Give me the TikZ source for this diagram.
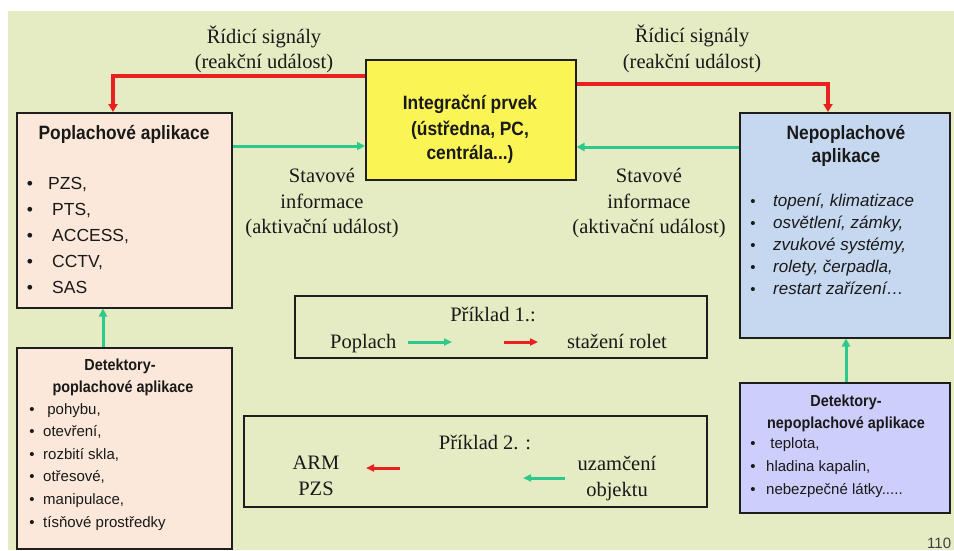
\documentclass[tikz,border=0pt]{standalone}
\usepackage{fontspec}
\setmainfont{Liberation Serif}
\setsansfont{Liberation Sans}
\newfontfamily\condsans[FakeStretch=0.9]{Liberation Sans}
\usetikzlibrary{arrows.meta}
\definecolor{bgc}{RGB}{229,235,195}
\definecolor{pinkc}{RGB}{252,232,218}
\definecolor{yelc}{RGB}{250,245,85}
\definecolor{bluec}{RGB}{198,216,240}
\definecolor{lavc}{RGB}{206,206,252}
\definecolor{redc}{RGB}{232,32,32}
\definecolor{grnc}{RGB}{45,200,140}
\definecolor{linec}{RGB}{30,30,30}
\definecolor{txtc}{RGB}{25,25,25}
\newcommand\fivedots{.....}
\tikzset{
  box/.style={draw=linec, line width=1.5pt, inner sep=0pt, anchor=north west},
  tc/.style={inner sep=0pt, anchor=base, text=txtc},
  tw/.style={inner sep=0pt, anchor=base west, text=txtc},
  serif/.style={font=\rmfamily\fontsize{20.5pt}{24pt}\selectfont},
  sfb/.style={font=\condsans\bfseries\fontsize{19.3pt}{22pt}\selectfont},
  sfr/.style={font=\sffamily\fontsize{17.5pt}{21pt}\selectfont},
  sfi/.style={font=\sffamily\itshape\fontsize{17pt}{21pt}\selectfont},
  smb/.style={font=\condsans\bfseries\fontsize{16pt}{18pt}\selectfont},
  smr/.style={font=\sffamily\fontsize{15pt}{18pt}\selectfont},
  rarr/.style={draw=redc, line width=3.5pt, -{Triangle[length=8pt,width=9pt]}},
  garr/.style={draw=grnc, line width=3pt, -{Triangle[length=8pt,width=8pt]}},
  rsm/.style={draw=redc, line width=3pt, -{Triangle[length=8pt,width=7pt]}},
  gsm/.style={draw=grnc, line width=3pt, -{Triangle[length=8pt,width=7pt]}},
}
\begin{document}
\begin{tikzpicture}[x=1pt,y=-1pt]
\useasboundingbox (0,0) rectangle (954,550);
\fill[white] (0,0) rectangle (954,550);
\fill[bgc] (8,11) rectangle (954,550);

% boxes
\node[box, fill=pinkc, minimum width=215pt, minimum height=195pt] (pop) at (16,112) {};
\node[box, fill=yelc, minimum width=210pt, minimum height=120pt] (yel) at (365,59) {};
\node[box, fill=bluec, minimum width=210pt, minimum height=225pt] (nep) at (739,112) {};
\node[box, fill=pinkc, minimum width=215pt, minimum height=201pt] (dpop) at (16,347) {};
\node[box, fill=lavc, minimum width=210pt, minimum height=130pt] (dnep) at (739,382) {};
\node[box, minimum width=412pt, minimum height=62pt] (ex1) at (294,295) {};
\node[box, minimum width=463pt, minimum height=91pt] (ex2) at (243,415) {};

% connectors
\coordinate (r1) at (113,76);
\coordinate (r2) at (828,84);
\coordinate (g1) at (0,146);
\coordinate (g2) at (0,147);
\coordinate (u1) at (103,0);
\coordinate (u2) at (846,0);
\draw[rarr] (yel.west |- r1) -| (pop.north -| r1);
\draw[rarr] (yel.east |- r2) -| (nep.north -| r2);
\draw[garr] (pop.east |- g1) -- (yel.west |- g1);
\draw[garr] (nep.west |- g2) -- (yel.east |- g2);
\draw[garr] (dpop.north -| u1) -- (pop.south -| u1);
\draw[garr] (dnep.north -| u2) -- (nep.south -| u2);

% labels on connectors
\node[serif, tc] (la1) at (264,43) {Řídicí signály};
\node[serif, tc] (la2) at (264,68) {(reakční událost)};
\node[serif, tc] (lb1) at (692,42) {Řídicí signály};
\node[serif, tc] (lb2) at (692,68) {(reakční událost)};
\node[serif, tc] (sa1) at (322,182) {Stavové};
\node[serif, tc] (sa2) at (322,208) {informace};
\node[serif, tc] (sa3) at (322,233) {(aktivační událost)};
\node[serif, tc] (sb1) at (649,182) {Stavové};
\node[serif, tc] (sb2) at (649,208) {informace};
\node[serif, tc] (sb3) at (649,233) {(aktivační událost)};

% yellow box text
\node[sfb, tc] (y1) at (470,109) {Integrační prvek};
\node[sfb, tc] (y2) at (470,135) {(ústředna, PC,};
\node[sfb, tc] (y3) at (470,159) {centrála...)};

% Poplachove aplikace
\node[sfb, tc] (pt) at (124,139) {Poplachové aplikace};
\foreach \t [count=\i] in {{PZS,},{PTS,},{ACCESS,},{CCTV,},{SAS}} {
  \node[sfr, tc] (pb\i) at (30,{189+26.2*(\i-1)}) {\textbullet};
  \node[sfr, tw] (pi\i) at ({\i==1 ? 48 : 52},{189+26.2*(\i-1)}) {\t};
}

% Nepoplachove aplikace
\node[sfb, tc] (nt1) at (846,139) {Nepoplachové};
\node[sfb, tc] (nt2) at (846,162) {aplikace};
\foreach \t [count=\i] in {{topení, klimatizace},{osvětlení, zámky,},{zvukové systémy,},{rolety, čerpadla,},{restart zařízení…}} {
  \node[smr, tc] (nb\i) at (753,{206+22.2*(\i-1)}) {\textbullet};
  \node[sfi, tw] (ni\i) at (773,{206+22.2*(\i-1)}) {\t};
}

% Detektory - poplachove
\node[smb, tc] (dt1) at (120,370) {Detektory-};
\node[smb, tc] (dt2) at (123,392) {poplachové aplikace};
\foreach \t [count=\i] in {{\ pohybu,},{otevření,},{rozbití skla,},{otřesové,},{manipulace,},{tísňové prostředky}} {
  \node[smr, tc] (db\i) at (32,{414+22.6*(\i-1)}) {\textbullet};
  \node[smr, tw] (di\i) at (43,{414+22.6*(\i-1)}) {\t};
}

% Detektory - nepoplachove
\node[smb, tc] (et1) at (846,406) {Detektory-};
\node[smb, tc] (et2) at (846,428) {nepoplachové aplikace};
\foreach \t [count=\i] in {{\ teplota,},{hladina kapalin,},{nebezpečné látky\fivedots}} {
  \node[smr, tc] (eb\i) at (753,{448+23*(\i-1)}) {\textbullet};
  \node[smr, tw] (ei\i) at (766,{448+23*(\i-1)}) {\t};
}

% Example 1
\node[serif, tc] (x1t) at (493,321) {Příklad 1.:};
\node[serif, tw] (x1a) at (330,348) {Poplach};
\node[serif, tw] (x1b) at (567,348) {stažení rolet};
\coordinate (e1a) at (408,342);
\coordinate (e1b) at (452,342);
\coordinate (e1c) at (504,342);
\coordinate (e1d) at (538,342);
\draw[gsm] (e1a) -- (e1b);
\draw[rsm] (e1c) -- (e1d);

% Example 2
\node[serif, tc] (x2t) at (485,449) {Příklad 2. :};
\node[serif, tc] (x2a) at (316,469) {ARM};
\node[serif, tc] (x2b) at (316,495) {PZS};
\node[serif, tc] (x2c) at (617,470) {uzamčení};
\node[serif, tc] (x2d) at (617,496) {objektu};
\coordinate (e2a) at (400,468);
\coordinate (e2b) at (366,468);
\coordinate (e2c) at (565,478);
\coordinate (e2d) at (523,478);
\draw[rsm] (e2a) -- (e2b);
\draw[gsm] (e2c) -- (e2d);

% page number
\node[smr, tw, text=black!75] (pg) at (927,548.5) {110};
\end{tikzpicture}
\end{document}
